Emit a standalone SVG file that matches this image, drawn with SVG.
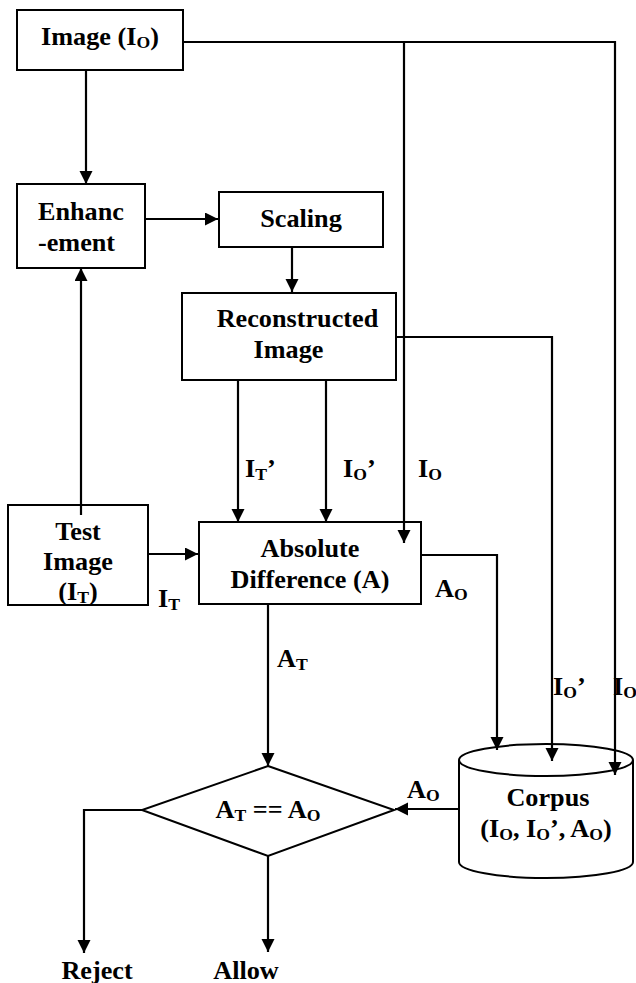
<svg xmlns="http://www.w3.org/2000/svg" width="636" height="983" viewBox="0 0 636 983">
<style>
.box{fill:#fff;stroke:#000;stroke-width:2}
.ln{fill:none;stroke:#000;stroke-width:2.2}
.arr{marker-end:url(#ah)}
.t text{font-weight:bold;font-size:24.5px;fill:#000}
.m{text-anchor:middle}
.s{font-size:16.5px}
</style>
<defs>
<marker id="ah" markerUnits="userSpaceOnUse" markerWidth="14" markerHeight="14" refX="13" refY="6.5" orient="auto">
<path d="M0,0 L13,6.5 L0,13 z" fill="#000"/>
</marker>
</defs>
<g id="image"><rect class="box" x="17" y="10" width="166" height="60"/></g>
<g id="enhancement"><rect class="box" x="17" y="184" width="128" height="84"/></g>
<g id="scaling"><rect class="box" x="219" y="192" width="164" height="55"/></g>
<g id="reconstructed"><rect class="box" x="182" y="293" width="214" height="87"/></g>
<g id="test"><rect class="box" x="8" y="505" width="140" height="100"/></g>
<g id="absdiff"><rect class="box" x="199" y="522" width="222" height="82"/></g>
<g id="decision"><path class="box" d="M268,766 L394,810 L268,856 L142,810 Z"/></g>
<g id="corpus">
<path class="box" d="M459,760 V862 A87,16 0 0 0 633,862 V760"/>
<ellipse class="box" cx="546" cy="760" rx="87" ry="16"/>
</g>
<g id="connectors">
<path class="ln arr" d="M86,70 V184"/>
<path class="ln arr" d="M183,42 H615 V775"/>
<path class="ln arr" d="M404,42 V543"/>
<path class="ln arr" d="M145,219 H218"/>
<path class="ln arr" d="M292,247 V292"/>
<path class="ln arr" d="M396,337 H552 V761"/>
<path class="ln arr" d="M238,380 V522"/>
<path class="ln arr" d="M326,380 V522"/>
<path class="ln arr" d="M81,515 V268"/>
<path class="ln arr" d="M149,554 H198"/>
<path class="ln arr" d="M421,555 H497 V750"/>
<path class="ln arr" d="M268,604 V766"/>
<path class="ln arr" d="M459,809 H395"/>
<path class="ln arr" d="M142,810 H84 V953"/>
<path class="ln arr" d="M268,856 V952"/>
</g>
<g id="labels" class="t" transform="scale(1.07 1)" font-family="'Liberation Serif', 'Times New Roman', 'DejaVu Serif', serif">
<text class="m" x="93.46" y="45">Image (I<tspan class="s" dy="3">O</tspan><tspan dy="-3">)</tspan></text>
<text x="35.51" y="220">Enhanc</text>
<text x="35.51" y="251">-ement</text>
<text class="m" x="281.3" y="227">Scaling</text>
<text class="m" x="278" y="327">Reconstructed</text>
<text class="m" x="269.6" y="358">Image</text>
<text class="m" x="289.7" y="557">Absolute</text>
<text class="m" x="289.7" y="588">Difference (A)</text>
<text class="m" x="72.9" y="540">Test</text>
<text class="m" x="72.9" y="570">Image</text>
<text class="m" x="72.9" y="600">(I<tspan class="s" dy="3">T</tspan><tspan dy="-3">)</tspan></text>
<text x="229" y="477">I<tspan class="s" dy="3">T</tspan><tspan dy="-3">’</tspan></text>
<text x="320.6" y="477">I<tspan class="s" dy="3">O</tspan><tspan dy="-3">’</tspan></text>
<text x="390.7" y="477">I<tspan class="s" dy="3">O</tspan></text>
<text x="147.7" y="607">I<tspan class="s" dy="3">T</tspan></text>
<text x="406.5" y="597">A<tspan class="s" dy="3">O</tspan></text>
<text x="258.9" y="667">A<tspan class="s" dy="3">T</tspan></text>
<text x="516.8" y="695">I<tspan class="s" dy="3">O</tspan><tspan dy="-3">’</tspan></text>
<text x="572.9" y="695">I<tspan class="s" dy="3">O</tspan></text>
<text class="m" x="250.5" y="818">A<tspan class="s" dy="3">T</tspan><tspan dy="-3"> == A</tspan><tspan class="s" dy="3">O</tspan></text>
<text x="380.4" y="798">A<tspan class="s" dy="3">O</tspan></text>
<text class="m" x="512.1" y="806">Corpus</text>
<text class="m" x="510.3" y="837">(I<tspan class="s" dy="3">O</tspan><tspan dy="-3">, I</tspan><tspan class="s" dy="3">O</tspan><tspan dy="-3">’, A</tspan><tspan class="s" dy="3">O</tspan><tspan dy="-3">)</tspan></text>
<text class="m" x="90.7" y="979">Reject</text>
<text class="m" x="229.9" y="979">Allow</text>
</g>
</svg>
